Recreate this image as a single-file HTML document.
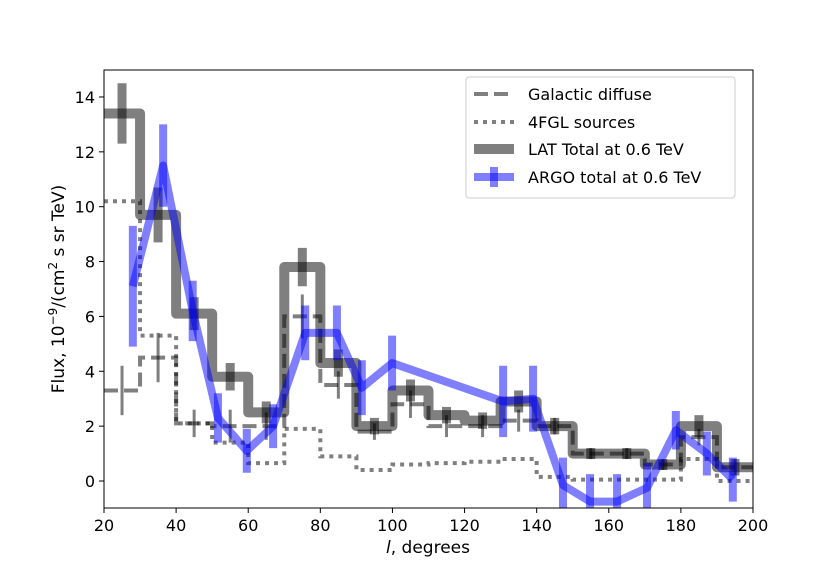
<!DOCTYPE html>
<html><head><meta charset="utf-8"><style>
body{margin:0;background:#fff}
svg text{font-family:"DejaVu Sans","Liberation Sans",sans-serif;fill:#000}
</style></head><body>
<svg id="c" width="830" height="581" viewBox="0 0 830 581">
<rect width="830" height="581" fill="#fff"/>
<g id="marks"></g>
<rect x="104" y="70" width="649" height="438" fill="none" stroke="#000" stroke-width="1"/>
<g id="ticks"></g>
<text x="428" y="553" font-size="17" text-anchor="middle"><tspan font-style="italic">l</tspan>, degrees</text>
<text transform="translate(64,289) rotate(-90)" font-size="17" text-anchor="middle">Flux, 10<tspan font-size="12" dy="-7">−9</tspan><tspan dy="7">/(cm</tspan><tspan font-size="12" dy="-7">2</tspan><tspan dy="7"> s sr TeV)</tspan></text>
<g>
<rect x="466" y="77" width="269" height="121" rx="3" fill="#fff" fill-opacity="0.8" stroke="#ccc"/>
<line x1="474" y1="94" x2="514" y2="94" stroke="#000" stroke-opacity="0.5" stroke-width="4" stroke-dasharray="14,6"/>
<text x="528" y="100" font-size="16">Galactic diffuse</text>
<line x1="474" y1="122" x2="514" y2="122" stroke="#000" stroke-opacity="0.5" stroke-width="4" stroke-dasharray="4,5"/>
<text x="528" y="128" font-size="16">4FGL sources</text>
<line x1="474" y1="149" x2="514" y2="149" stroke="#000" stroke-opacity="0.5" stroke-width="10"/>
<text x="528" y="155" font-size="16">LAT Total at 0.6 TeV</text>
<line x1="474" y1="177" x2="514" y2="177" stroke="#00f" stroke-opacity="0.5" stroke-width="8"/>
<line x1="494" y1="167" x2="494" y2="187" stroke="#00f" stroke-opacity="0.5" stroke-width="8"/>
<text x="528" y="183" font-size="16">ARGO total at 0.6 TeV</text>
</g>
</svg>
<script>
const binEdges=[20,30,40,50,60,70,80,90,100,110,120,130,140,150,160,170,180,190,200];
const latTotal=[13.4,9.7,6.1,3.8,2.5,7.8,4.3,2.0,3.3,2.4,2.2,2.9,2.0,1.0,1.0,0.6,2.0,0.5];
const latErr=[1.1,1.0,0.6,0.5,0.4,0.7,0.5,0.3,0.4,0.3,0.3,0.4,0.3,0.2,0.2,0.2,0.4,0.3];
const diffuse=[3.3,4.5,2.1,2.0,2.0,6.0,3.5,1.8,2.8,2.0,2.0,2.2,2.0,1.0,1.0,0.6,1.6,0.5];
const diffuseErr=[0.9,0.9,0.5,0.6,0.5,0.8,0.5,0.3,0.5,0.4,0.4,0.4,0.3,0.2,0.2,0.2,0.3,0.3];
const fgl=[10.2,5.3,2.1,1.4,0.65,1.9,0.9,0.4,0.6,0.65,0.7,0.8,0.15,0.05,0.05,0.05,0.8,0.0];
const argoL=[28,36.4,44.6,51.6,59.6,66.9,75.8,84.6,91.5,99.9,130.7,139,147.3,154.8,162.3,170.6,178.6,187.2,194.4];
const argoV=[7.1,11.5,6.2,2.3,1.1,2.0,5.4,5.4,3.4,4.3,2.9,3.0,-0.15,-0.75,-0.75,-0.25,1.85,1.0,0.05];
const argoErr=[2.2,1.5,1.1,0.9,0.8,0.8,1.0,1.0,1.0,1.0,1.3,1.2,1.0,1.0,1.0,0.9,0.7,0.8,0.8];
const xTicks=[20,40,60,80,100,120,140,160,180,200];
const yTicks=[0,2,4,6,8,10,12,14];
const X=l=>104+(l-20)*(649/180);
const Y=v=>481-v*27.43;
const NS='http://www.w3.org/2000/svg';
const marks=document.getElementById('marks');
function mk(tag,attrs,parent){const e=document.createElementNS(NS,tag);for(const k in attrs)e.setAttribute(k,attrs[k]);(parent||marks).appendChild(e);return e;}
const clip=mk('clipPath',{id:'cp'});mk('rect',{x:104,y:70,width:649,height:438},clip);
const g=mk('g',{'clip-path':'url(#cp)'});
function stepPath(vals){let d='';vals.forEach((v,i)=>{d+=(i?'L':'M')+X(binEdges[i])+','+Y(v)+'L'+X(binEdges[i+1])+','+Y(v);});return d;}
function errs(vals,er,w,name){vals.forEach((v,i)=>{const c=(binEdges[i]+binEdges[i+1])/2;
const e=mk('line',{x1:X(c),x2:X(c),y1:Y(v+er[i]),y2:Y(v-er[i]),stroke:'#000','stroke-opacity':0.5,'stroke-width':w},g);

});}
let p=mk('path',{d:stepPath(fgl),fill:'none',stroke:'#000','stroke-opacity':0.5,'stroke-width':4,'stroke-dasharray':'4,5'},g);


p=mk('path',{d:stepPath(diffuse),fill:'none',stroke:'#000','stroke-opacity':0.5,'stroke-width':4,'stroke-dasharray':'14,6'},g);


errs(diffuse,diffuseErr,3,'diffuse-errorbar');
p=mk('path',{d:stepPath(latTotal),fill:'none',stroke:'#000','stroke-opacity':0.5,'stroke-width':10,'stroke-linejoin':'round'},g);


errs(latTotal,latErr,9,'lat-errorbar');
let d='';argoL.forEach((l,i)=>{d+=(i?'L':'M')+X(l)+','+Y(argoV[i]);});
p=mk('path',{d:d,fill:'none',stroke:'#00f','stroke-opacity':0.5,'stroke-width':8,'stroke-linejoin':'round'},g);


argoL.forEach((l,i)=>{const e=mk('line',{x1:X(l),x2:X(l),y1:Y(argoV[i]+argoErr[i]),y2:Y(argoV[i]-argoErr[i]),stroke:'#00f','stroke-opacity':0.5,'stroke-width':8},g);

});
const tk=document.getElementById('ticks');
xTicks.forEach(t=>{mk('line',{x1:X(t),x2:X(t),y1:508,y2:513,stroke:'#000'},tk);
const e=mk('text',{x:X(t),y:531,'font-size':16,'text-anchor':'middle'},tk);e.textContent=t;

});
yTicks.forEach(t=>{mk('line',{x1:99,x2:104,y1:Y(t),y2:Y(t),stroke:'#000'},tk);
const e=mk('text',{x:95,y:Y(t)+6,'font-size':16,'text-anchor':'end'},tk);e.textContent=t;

});
</script>
</body></html>
